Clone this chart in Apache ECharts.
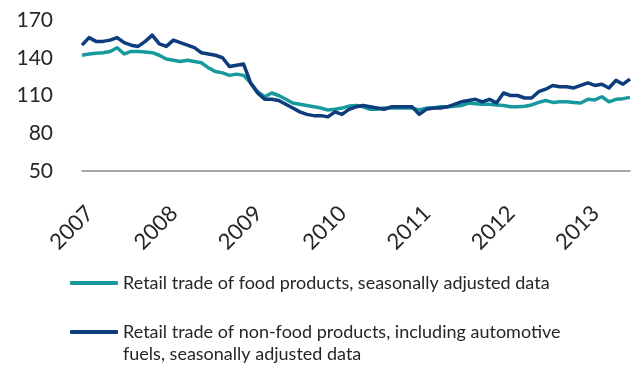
<!DOCTYPE html>
<html>
<head>
<meta charset="utf-8">
<script src="https://cdn.jsdelivr.net/npm/echarts@6/dist/echarts.min.js"></script>
<style>
  html, body { margin: 0; padding: 0; background: #ffffff; }
  #chart { width: 632px; height: 369px; }
</style>
</head>
<body>
<div id="chart"></div>
<script>
// Monthly index values, January 2007 to July 2013
const years = ['2007', '2008', '2009', '2010', '2011', '2012', '2013'];
const monthsInLastYear = 7;

const foodProducts = [
  142, 143, 143.5, 144, 145, 148, 143, 145, 145, 144.5, 144, 142,
  139, 138, 137, 138, 137, 136, 132, 129, 128, 126, 127, 126,
  120, 113, 109, 112, 110, 107, 104, 103, 102, 101, 100, 98.5,
  99, 100, 101.6, 102, 101, 99, 99, 100, 100, 100, 100, 100,
  98.5, 100, 100, 101, 101, 101.5, 102, 104, 103.5, 103, 103, 102.5,
  102, 101, 101, 101.5, 102.5, 104.5, 106, 104.5, 105, 105, 104.5, 104,
  107, 106.5, 109, 105, 107, 107.5, 108.5
];

const nonFoodProducts = [
  150, 156, 153, 153, 154, 156, 152, 150, 149, 153, 158, 151,
  149, 154, 152, 150, 148, 144, 143, 142, 140, 133, 134, 135,
  120, 112, 107, 107, 106, 103, 100, 97, 95, 94, 94, 93,
  97, 95, 99, 101, 102, 101, 100, 99, 101, 101, 101, 101,
  95, 99, 100, 100, 101, 103, 105, 106, 107, 105, 107, 104,
  112, 110, 110, 108, 108, 113, 115, 118, 117, 117, 116, 118,
  120, 118, 119, 116, 122, 119, 123
];

const yTicks = [50, 80, 110, 140, 170];

const seriesNames = [
  'Retail trade of food products, seasonally adjusted data',
  'Retail trade of non-food products, including automotive\nfuels, seasonally adjusted data'
];

const colors = ['#17999e', '#0d3d7c'];

// One category per month, e.g. "2007-01"
const months = [];
years.forEach((y, yi) => {
  const count = yi === years.length - 1 ? monthsInLastYear : 12;
  for (let m = 1; m <= count; m++) {
    months.push(y + '-' + String(m).padStart(2, '0'));
  }
});

const FONT = 'Lato, "Open Sans", sans-serif';
const legendText = { color: '#262626', fontFamily: FONT, fontSize: 18, lineHeight: 22 };
const legendBase = {
  orient: 'vertical',
  left: 70,
  padding: 0,
  itemWidth: 48,
  itemHeight: 4,
  icon: 'roundRect',
  textStyle: legendText
};

const chart = echarts.init(document.getElementById('chart'), null, { renderer: 'canvas' });

chart.setOption({
  animation: false,
  backgroundColor: '#ffffff',
  grid: { left: 82, right: 2, top: 20, bottom: 198, containLabel: false },
  xAxis: {
    type: 'category',
    data: months,
    boundaryGap: false,
    axisLine: { show: true, lineStyle: { color: '#8c8c8c', width: 1.5 } },
    axisTick: { show: false },
    splitLine: { show: false },
    axisLabel: {
      interval: 11,
      rotate: 45,
      margin: 31,
      verticalAlign: 'top',
      color: '#262626',
      fontFamily: FONT,
      fontSize: 22,
      formatter: v => v.slice(0, 4)
    }
  },
  yAxis: {
    type: 'value',
    min: 50,
    max: 170,
    axisLine: { show: false },
    axisTick: { show: false },
    splitLine: { show: false },
    axisLabel: {
      customValues: yTicks,
      margin: 29,
      color: '#262626',
      fontFamily: FONT,
      fontSize: 21
    }
  },
  legend: [
    Object.assign({}, legendBase, {
      top: 272,
      data: [{ name: seriesNames[0] }]
    }),
    Object.assign({}, legendBase, {
      top: 299,
      height: 80,
      // blank leading line keeps the swatch level with the first text line
      formatter: name => ' \n' + name,
      data: [{ name: seriesNames[1] }]
    })
  ],
  series: [
    {
      name: seriesNames[0],
      type: 'line',
      data: foodProducts,
      showSymbol: false,
      symbol: 'none',
      color: colors[0],
      lineStyle: { width: 3.5, color: colors[0], join: 'round' },
      z: 2
    },
    {
      name: seriesNames[1],
      type: 'line',
      data: nonFoodProducts,
      showSymbol: false,
      symbol: 'none',
      color: colors[1],
      lineStyle: { width: 3.5, color: colors[1], join: 'round' },
      z: 3
    }
  ]
});
</script>
</body>
</html>
